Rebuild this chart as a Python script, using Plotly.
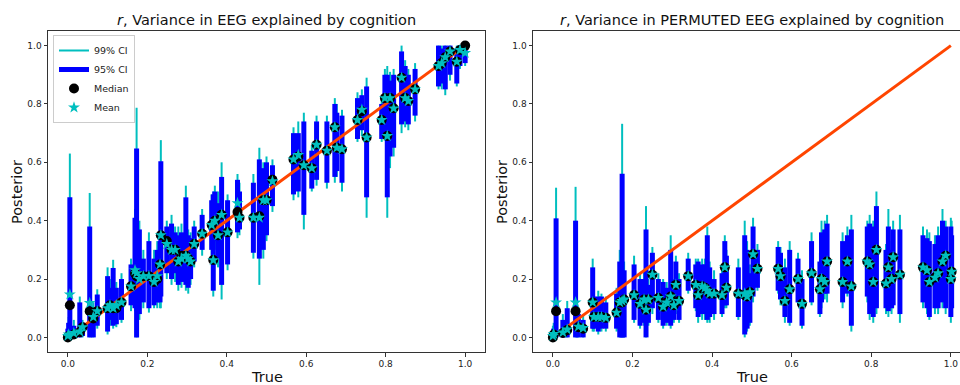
import plotly.graph_objects as go

# ---------------- Left panel data (EEG) ----------------
left_true = [0.000, 0.002, 0.005, 0.015, 0.030, 0.037, 0.055, 0.064, 0.074, 0.100,
             0.106, 0.114, 0.122, 0.135, 0.159, 0.169, 0.173, 0.180, 0.190, 0.204,
             0.217, 0.225, 0.232, 0.234, 0.249, 0.261, 0.270, 0.278, 0.286, 0.297,
             0.303, 0.309, 0.318, 0.338, 0.362, 0.366, 0.370, 0.378, 0.387, 0.402,
             0.427, 0.432, 0.467, 0.482, 0.492, 0.500, 0.515, 0.568, 0.580, 0.594,
             0.614, 0.626, 0.652, 0.672, 0.677, 0.690, 0.729, 0.740, 0.752, 0.790,
             0.798, 0.804, 0.811, 0.820, 0.840, 0.849, 0.857, 0.874, 0.933, 0.941,
             0.950, 0.962, 0.979, 0.987, 1.000]
left_median = [0.000, 0.005, 0.110, 0.010, 0.018, 0.035, 0.090, 0.065, 0.090, 0.100,
               0.110, 0.100, 0.100, 0.120, 0.175, 0.220, 0.210, 0.210, 0.210, 0.210,
               0.190, 0.200, 0.250, 0.350, 0.330, 0.300, 0.300, 0.260, 0.280, 0.280,
               0.270, 0.260, 0.320, 0.355, 0.385, 0.265, 0.400, 0.350, 0.420, 0.360,
               0.430, 0.410, 0.410, 0.415, 0.470, 0.470, 0.540, 0.610, 0.620, 0.590,
               0.580, 0.660, 0.640, 0.720, 0.650, 0.645, 0.745, 0.775, 0.685, 0.745,
               0.820, 0.690, 0.820, 0.785, 0.890, 0.820, 0.810, 0.850, 0.930, 0.940,
               0.960, 0.980, 0.945, 0.985, 1.000]
left_mean = [0.005, 0.010, 0.147, 0.015, 0.020, 0.035, 0.118, 0.070, 0.090, 0.100,
             0.110, 0.100, 0.110, 0.120, 0.175, 0.230, 0.220, 0.200, 0.210, 0.210,
             0.190, 0.210, 0.250, 0.350, 0.320, 0.300, 0.300, 0.260, 0.270, 0.280,
             0.270, 0.260, 0.320, 0.355, 0.385, 0.265, 0.400, 0.350, 0.420, 0.360,
             0.460, 0.410, 0.410, 0.410, 0.470, 0.470, 0.535, 0.610, 0.625, 0.590,
             0.580, 0.660, 0.640, 0.720, 0.650, 0.645, 0.745, 0.780, 0.685, 0.745,
             0.820, 0.690, 0.820, 0.785, 0.890, 0.820, 0.810, 0.850, 0.930, 0.940,
             0.960, 0.980, 0.945, 0.985, 0.975]
left_lo95 = [0.000, 0.000, 0.005, 0.000, 0.000, 0.005, 0.000, 0.000, 0.040, 0.020,
             0.060, 0.040, 0.045, 0.060, 0.110, 0.100, 0.000, 0.080, 0.120, 0.100,
             0.110, 0.120, 0.120, 0.140, 0.220, 0.200, 0.220, 0.180, 0.190, 0.180,
             0.170, 0.200, 0.260, 0.300, 0.300, 0.160, 0.330, 0.270, 0.180, 0.250,
             0.360, 0.370, 0.290, 0.270, 0.300, 0.350, 0.450, 0.490, 0.500, 0.420,
             0.510, 0.540, 0.530, 0.550, 0.570, 0.530, 0.680, 0.710, 0.480, 0.680,
             0.700, 0.480, 0.620, 0.650, 0.730, 0.740, 0.730, 0.760, 0.860, 0.870,
             0.850, 0.900, 0.870, 0.930, 0.940]
left_hi95 = [0.030, 0.050, 0.480, 0.040, 0.120, 0.050, 0.380, 0.100, 0.147, 0.210,
             0.170, 0.238, 0.170, 0.200, 0.250, 0.410, 0.647, 0.370, 0.270, 0.330,
             0.270, 0.300, 0.330, 0.604, 0.380, 0.390, 0.360, 0.350, 0.360, 0.480,
             0.350, 0.340, 0.380, 0.420, 0.470, 0.490, 0.500, 0.460, 0.550, 0.470,
             0.540, 0.500, 0.530, 0.610, 0.580, 0.600, 0.590, 0.700, 0.700, 0.740,
             0.640, 0.740, 0.740, 0.800, 0.770, 0.760, 0.820, 0.830, 0.860, 0.800,
             0.900, 0.900, 0.880, 0.900, 0.980, 0.930, 0.900, 0.920, 1.000, 0.990,
             1.000, 1.000, 0.990, 1.000, 1.000]
left_lo99 = [0.000, 0.000, 0.000, 0.000, 0.000, 0.000, 0.000, 0.000, 0.030, 0.010,
             0.040, 0.030, 0.035, 0.050, 0.090, 0.090, 0.000, 0.060, 0.100, 0.085,
             0.100, 0.100, 0.100, 0.100, 0.200, 0.180, 0.190, 0.160, 0.170, 0.160,
             0.150, 0.180, 0.240, 0.280, 0.280, 0.140, 0.300, 0.240, 0.130, 0.230,
             0.340, 0.350, 0.270, 0.180, 0.270, 0.330, 0.430, 0.470, 0.480, 0.370,
             0.500, 0.520, 0.510, 0.530, 0.550, 0.500, 0.670, 0.690, 0.410, 0.670,
             0.680, 0.410, 0.580, 0.620, 0.700, 0.720, 0.710, 0.740, 0.850, 0.850,
             0.830, 0.880, 0.860, 0.920, 0.930]
left_hi99 = [0.050, 0.070, 0.630, 0.060, 0.140, 0.060, 0.495, 0.120, 0.165, 0.240,
             0.200, 0.266, 0.190, 0.220, 0.270, 0.440, 0.787, 0.400, 0.300, 0.360,
             0.300, 0.330, 0.350, 0.676, 0.400, 0.420, 0.380, 0.380, 0.390, 0.520,
             0.370, 0.360, 0.400, 0.440, 0.490, 0.500, 0.520, 0.500, 0.600, 0.490,
             0.560, 0.530, 0.560, 0.650, 0.600, 0.620, 0.610, 0.720, 0.740, 0.770,
             0.660, 0.760, 0.760, 0.820, 0.800, 0.780, 0.840, 0.850, 0.890, 0.820,
             0.920, 0.930, 0.910, 0.920, 1.000, 0.950, 0.920, 0.940, 1.000, 1.000,
             1.000, 1.000, 1.000, 1.000, 1.000]

# ---------------- Right panel data (PERMUTED EEG) ----------------
right_true = [0.000, 0.002, 0.008, 0.025, 0.036, 0.057, 0.064, 0.076, 0.100, 0.103,
              0.114, 0.122, 0.133, 0.160, 0.168, 0.174, 0.179, 0.204, 0.219, 0.229,
              0.234, 0.240, 0.250, 0.265, 0.277, 0.286, 0.296, 0.304, 0.309, 0.317,
              0.340, 0.359, 0.365, 0.375, 0.382, 0.388, 0.394, 0.405, 0.425, 0.432,
              0.436, 0.466, 0.482, 0.488, 0.495, 0.503, 0.514, 0.566, 0.572, 0.583,
              0.595, 0.616, 0.626, 0.650, 0.671, 0.675, 0.683, 0.689, 0.728, 0.740,
              0.750, 0.790, 0.796, 0.805, 0.813, 0.837, 0.843, 0.851, 0.855, 0.872,
              0.930, 0.940, 0.946, 0.960, 0.968, 0.979, 0.987, 1.000, 1.002]
right_median = [0.000, 0.010, 0.090, 0.015, 0.025, 0.090, 0.035, 0.030, 0.120, 0.070,
                0.070, 0.070, 0.067, 0.085, 0.120, 0.120, 0.130, 0.145, 0.115, 0.130,
                0.095, 0.130, 0.215, 0.135, 0.105, 0.120, 0.140, 0.110, 0.180, 0.125,
                0.210, 0.180, 0.145, 0.175, 0.170, 0.160, 0.150, 0.150, 0.145, 0.240,
                0.170, 0.150, 0.145, 0.140, 0.155, 0.285, 0.235, 0.235, 0.210, 0.125,
                0.165, 0.200, 0.115, 0.220, 0.165, 0.200, 0.190, 0.260, 0.190, 0.260,
                0.175, 0.260, 0.250, 0.190, 0.300, 0.185, 0.240, 0.200, 0.275, 0.215,
                0.240, 0.230, 0.190, 0.205, 0.220, 0.260, 0.280, 0.200, 0.225]
right_mean = [0.005, 0.012, 0.120, 0.017, 0.027, 0.120, 0.037, 0.032, 0.120, 0.070,
              0.070, 0.070, 0.067, 0.085, 0.120, 0.125, 0.130, 0.145, 0.115, 0.130,
              0.095, 0.130, 0.215, 0.135, 0.105, 0.120, 0.140, 0.110, 0.180, 0.125,
              0.210, 0.180, 0.145, 0.175, 0.170, 0.160, 0.150, 0.150, 0.145, 0.240,
              0.170, 0.150, 0.150, 0.140, 0.155, 0.285, 0.235, 0.235, 0.210, 0.125,
              0.165, 0.200, 0.115, 0.220, 0.165, 0.200, 0.190, 0.260, 0.190, 0.260,
              0.175, 0.260, 0.250, 0.190, 0.300, 0.185, 0.240, 0.200, 0.275, 0.215,
              0.240, 0.230, 0.190, 0.205, 0.220, 0.260, 0.280, 0.200, 0.225]
right_lo95 = [0.000, 0.000, 0.000, 0.000, 0.000, 0.000, 0.000, 0.000, 0.030, 0.030,
              0.020, 0.030, 0.030, 0.030, 0.000, 0.000, 0.000, 0.060, 0.040, 0.050,
              0.000, 0.050, 0.100, 0.060, 0.040, 0.050, 0.040, 0.060, 0.100, 0.060,
              0.160, 0.100, 0.070, 0.080, 0.080, 0.060, 0.070, 0.080, 0.080, 0.110,
              0.110, 0.070, 0.010, 0.030, 0.050, 0.140, 0.170, 0.160, 0.130, 0.070,
              0.050, 0.120, 0.040, 0.120, 0.080, 0.120, 0.150, 0.150, 0.120, 0.150,
              0.040, 0.140, 0.080, 0.070, 0.100, 0.100, 0.090, 0.100, 0.110, 0.080,
              0.120, 0.100, 0.070, 0.100, 0.100, 0.120, 0.100, 0.070, 0.100]
right_hi95 = [0.020, 0.030, 0.408, 0.060, 0.100, 0.400, 0.080, 0.060, 0.240, 0.140,
              0.140, 0.140, 0.120, 0.150, 0.260, 0.561, 0.230, 0.250, 0.200, 0.200,
              0.370, 0.180, 0.290, 0.200, 0.190, 0.170, 0.300, 0.180, 0.260, 0.200,
              0.270, 0.250, 0.260, 0.250, 0.250, 0.350, 0.240, 0.200, 0.220, 0.330,
              0.280, 0.240, 0.350, 0.300, 0.220, 0.380, 0.300, 0.310, 0.290, 0.240,
              0.300, 0.270, 0.200, 0.330, 0.260, 0.360, 0.370, 0.390, 0.330, 0.350,
              0.370, 0.380, 0.390, 0.380, 0.450, 0.300, 0.380, 0.300, 0.370, 0.370,
              0.350, 0.340, 0.330, 0.320, 0.350, 0.400, 0.380, 0.380, 0.350]
right_lo99 = [0.000, 0.000, 0.000, 0.000, 0.000, 0.000, 0.000, 0.000, 0.020, 0.020,
              0.010, 0.020, 0.020, 0.020, 0.000, 0.000, 0.000, 0.050, 0.030, 0.040,
              0.000, 0.040, 0.080, 0.050, 0.030, 0.040, 0.030, 0.050, 0.080, 0.050,
              0.150, 0.090, 0.050, 0.060, 0.060, 0.050, 0.050, 0.060, 0.070, 0.100,
              0.100, 0.060, 0.000, 0.020, 0.040, 0.120, 0.160, 0.150, 0.110, 0.050,
              0.040, 0.110, 0.030, 0.110, 0.070, 0.100, 0.130, 0.120, 0.100, 0.140,
              0.020, 0.120, 0.060, 0.050, 0.080, 0.080, 0.070, 0.080, 0.100, 0.050,
              0.100, 0.080, 0.060, 0.080, 0.080, 0.100, 0.080, 0.050, 0.080]
right_hi99 = [0.040, 0.050, 0.513, 0.080, 0.125, 0.516, 0.100, 0.080, 0.270, 0.160,
              0.160, 0.150, 0.140, 0.170, 0.300, 0.732, 0.260, 0.280, 0.220, 0.230,
              0.450, 0.200, 0.310, 0.220, 0.200, 0.190, 0.350, 0.200, 0.280, 0.220,
              0.290, 0.270, 0.270, 0.270, 0.270, 0.380, 0.260, 0.230, 0.250, 0.350,
              0.300, 0.270, 0.400, 0.330, 0.250, 0.410, 0.320, 0.330, 0.310, 0.270,
              0.330, 0.290, 0.230, 0.360, 0.290, 0.400, 0.400, 0.420, 0.360, 0.380,
              0.420, 0.400, 0.420, 0.400, 0.500, 0.320, 0.440, 0.330, 0.400, 0.420,
              0.380, 0.370, 0.360, 0.350, 0.380, 0.440, 0.400, 0.410, 0.400]

titles = ["<i>r</i>, Variance in EEG explained by cognition",
          "<i>r</i>, Variance in PERMUTED EEG explained by cognition"]
x_ticks = [0.0, 0.2, 0.4, 0.6, 0.8, 1.0]
y_ticks = [0.0, 0.2, 0.4, 0.6, 0.8, 1.0]

CYAN = "#00BFBF"
BLUE = "#0000FF"
ORANGE = "#FF4500"
FONT = "DejaVu Sans"


def segments(xs, lo, hi):
    sx, sy = [], []
    for x, a, b in zip(xs, lo, hi):
        sx += [x, x, None]
        sy += [a, b, None]
    return sx, sy


fig = go.Figure()

panels = [
    ("x", "y", left_true, left_median, left_mean, left_lo95, left_hi95, left_lo99, left_hi99, True),
    ("x2", "y2", right_true, right_median, right_mean, right_lo95, right_hi95, right_lo99, right_hi99, False),
]

for xa, ya, tx, med, mean, lo95, hi95, lo99, hi99, show in panels:
    sx, sy = segments(tx, lo99, hi99)
    fig.add_trace(go.Scatter(x=sx, y=sy, mode="lines", line=dict(color=CYAN, width=2),
                             name="99% CI", showlegend=show, xaxis=xa, yaxis=ya, hoverinfo="skip"))
    sx, sy = segments(tx, lo95, hi95)
    fig.add_trace(go.Scatter(x=sx, y=sy, mode="lines", line=dict(color=BLUE, width=5),
                             name="95% CI", showlegend=show, xaxis=xa, yaxis=ya, hoverinfo="skip"))
    fig.add_trace(go.Scatter(x=[0, 1], y=[0, 1], mode="lines", line=dict(color=ORANGE, width=3),
                             showlegend=False, xaxis=xa, yaxis=ya, hoverinfo="skip"))
    fig.add_trace(go.Scatter(x=tx, y=med, mode="markers",
                             marker=dict(color="black", size=10, symbol="circle"),
                             name="Median", showlegend=show, xaxis=xa, yaxis=ya))
    fig.add_trace(go.Scatter(x=tx, y=mean, mode="markers",
                             marker=dict(color=CYAN, size=9, symbol="star"),
                             name="Mean", showlegend=show, xaxis=xa, yaxis=ya))

W, H = 960, 385
yd = [1 - 352 / H, 1 - 31 / H]
axis_common = dict(showgrid=False, zeroline=False, showline=True, linecolor="#333333",
                   linewidth=1, ticks="outside", ticklen=3.5, tickcolor="#333333",
                   tickfont=dict(family=FONT, size=9, color="#222222"))

fig.update_layout(
    width=W, height=H,
    margin=dict(l=0, r=0, t=0, b=0),
    paper_bgcolor="white", plot_bgcolor="white",
    font=dict(family=FONT),
    xaxis=dict(domain=[48 / W, 485 / W], range=[-0.05, 1.05], tickvals=x_ticks,
               ticktext=[f"{v:.1f}" for v in x_ticks], mirror=True, anchor="y", **axis_common),
    yaxis=dict(domain=yd, range=[-0.05, 1.05], tickvals=y_ticks,
               ticktext=[f"{v:.1f}" for v in y_ticks], mirror=True, anchor="x", **axis_common),
    xaxis2=dict(domain=[533 / W, 1.0], range=[-0.05, 1.023], tickvals=x_ticks,
                ticktext=[f"{v:.1f}" for v in x_ticks], mirror=True, anchor="y2", **axis_common),
    yaxis2=dict(domain=yd, range=[-0.05, 1.05], tickvals=y_ticks,
                ticktext=[f"{v:.1f}" for v in y_ticks], mirror=False, anchor="x2", **axis_common),
    legend=dict(x=53 / W, y=1 - 35 / H, xanchor="left", yanchor="top",
                bgcolor="rgba(255,255,255,0.9)", bordercolor="#cccccc", borderwidth=1,
                font=dict(family=FONT, size=9.5, color="#222222"), tracegroupgap=0,
                itemwidth=30),
    showlegend=True,
)

annotations = [
    dict(text=titles[0], x=266.5 / W, y=1 - 20 / H, xref="paper", yref="paper",
         showarrow=False, font=dict(family=FONT, size=14.5, color="#111111"),
         xanchor="center", yanchor="middle"),
    dict(text=titles[1], x=752 / W, y=1 - 20 / H, xref="paper", yref="paper",
         showarrow=False, font=dict(family=FONT, size=14.5, color="#111111"),
         xanchor="center", yanchor="middle"),
    dict(text="True", x=266.5 / W, y=1 - 377 / H, xref="paper", yref="paper",
         showarrow=False, font=dict(family=FONT, size=14.5, color="#111111"),
         xanchor="center", yanchor="middle"),
    dict(text="True", x=752 / W, y=1 - 377 / H, xref="paper", yref="paper",
         showarrow=False, font=dict(family=FONT, size=14.5, color="#111111"),
         xanchor="center", yanchor="middle"),
    dict(text="Posterior", x=17 / W, y=1 - 192 / H, xref="paper", yref="paper",
         showarrow=False, textangle=-90, font=dict(family=FONT, size=14.5, color="#111111"),
         xanchor="center", yanchor="middle"),
    dict(text="Posterior", x=502 / W, y=1 - 192 / H, xref="paper", yref="paper",
         showarrow=False, textangle=-90, font=dict(family=FONT, size=14.5, color="#111111"),
         xanchor="center", yanchor="middle"),
]
fig.update_layout(annotations=annotations)

fig.write_html("out.html")
